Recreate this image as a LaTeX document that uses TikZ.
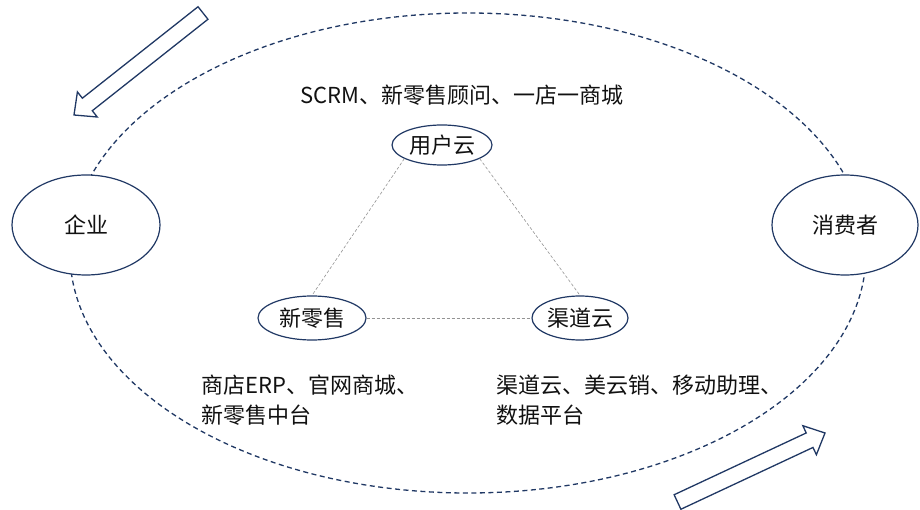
\documentclass[tikz,border=0pt]{standalone}
\usepackage{fontspec}
\setmainfont{Noto Sans CJK SC}
\usetikzlibrary{shapes.geometric,calc}
\definecolor{navy}{HTML}{203864}
\definecolor{txtc}{HTML}{111111}
\tikzset{
  bigell/.style={ellipse, draw=navy, line width=1.2pt, fill=white, inner sep=0pt, text=txtc, font=\fontsize{22}{26}\selectfont},
  outerring/.style={ellipse, draw=navy, line width=1.3pt, dash pattern=on 5pt off 3.5pt, inner sep=0pt},
  link/.style={draw=gray!85, line width=0.6pt, dash pattern=on 3pt off 2pt},
  txt/.style={inner sep=0pt, text=txtc, font=\fontsize{22}{30}\selectfont},
  hollow/.style={draw=navy, line width=1.3pt, line join=miter, fill=white}
}
\begin{document}
\begin{tikzpicture}[x=1pt,y=-1pt]
\useasboundingbox (0,0) rectangle (920,510);
% outer dashed ring
\node[outerring, minimum width=796pt, minimum height=480pt] (ring) at (468,253) {};
% big actor ellipses
\node[bigell, minimum width=148pt, minimum height=100pt] (ent) at (86,225) {企业};
\node[bigell, minimum width=146pt, minimum height=100pt] (con) at (845,225) {消费者};
% inner ellipses
\node[bigell, minimum width=100pt, minimum height=40pt] (u) at (442,145) {用户云};
\node[bigell, minimum width=108pt, minimum height=44pt] (x) at (312,318) {新零售};
\node[bigell, minimum width=96pt, minimum height=44pt] (c) at (580,318) {渠道云};
% links
\draw[link] (u.200) -- (x.north);
\draw[link] (u.340) -- (c.north);
\draw[link] (x.east) -- (c.west);
% texts
\node[txt] (t1) at (462,95) {SCRM、新零售顾问、一店一商城};
\node[txt, anchor=west, align=left] (t2) at (201,400) {商店ERP、官网商城、\\新零售中台};
\node[txt, anchor=west, align=left] (t3) at (496,400) {渠道云、美云销、移动助理、\\数据平台};
% hollow arrows
\coordinate (a1t) at (203,13);
\coordinate (a1h) at (74,115);
\coordinate (a1b) at ($(a1h)!17pt!(a1t)$);
\draw[hollow] ($(a1t)!8pt!90:(a1h)$) -- ($(a1b)!8pt!90:(a1h)$) -- ($(a1b)!16pt!90:(a1h)$) -- (a1h)
  -- ($(a1b)!16pt!-90:(a1h)$) -- ($(a1b)!8pt!-90:(a1h)$) -- ($(a1t)!8pt!-90:(a1h)$) -- cycle;
\coordinate (a2t) at (677.5,502);
\coordinate (a2h) at (825,433);
\coordinate (a2b) at ($(a2h)!17pt!(a2t)$);
\draw[hollow] ($(a2t)!8pt!90:(a2h)$) -- ($(a2b)!8pt!90:(a2h)$) -- ($(a2b)!16pt!90:(a2h)$) -- (a2h)
  -- ($(a2b)!16pt!-90:(a2h)$) -- ($(a2b)!8pt!-90:(a2h)$) -- ($(a2t)!8pt!-90:(a2h)$) -- cycle;
\end{tikzpicture}
\end{document}
